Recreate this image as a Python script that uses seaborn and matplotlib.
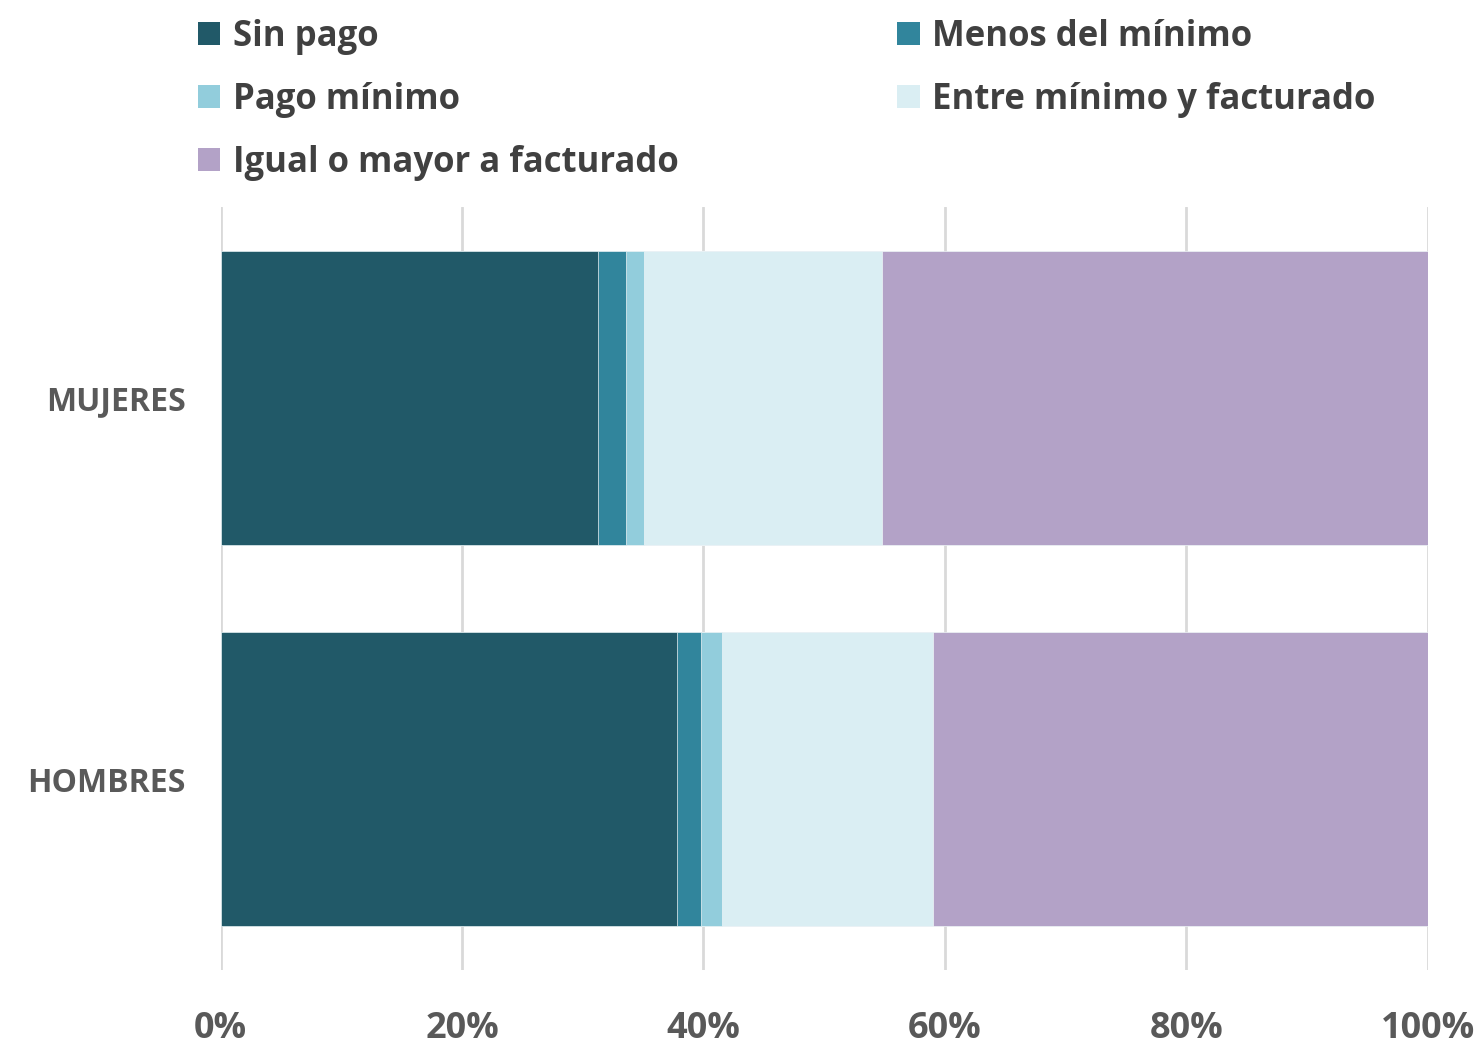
import numpy as np
import pandas as pd
import matplotlib
matplotlib.use("Agg")
import matplotlib.pyplot as plt
import seaborn as sns
from matplotlib.patches import Patch

# Data (percent of each group)
categories = ["MUJERES", "HOMBRES"]
series = ["Sin pago", "Menos del mínimo", "Pago mínimo",
          "Entre mínimo y facturado", "Igual o mayor a facturado"]
sin_pago = [31.3, 37.8]
menos_minimo = [2.3, 2.0]
pago_minimo = [1.5, 1.7]
entre = [19.7, 17.5]
igual_mayor = [45.2, 41.0]
colors = ["#215968", "#31859C", "#92CDDC", "#DAEEF3", "#B3A2C7"]
tick_labels = ["0%", "20%", "40%", "60%", "80%", "100%"]

sns.set_theme(style="white")
plt.rcParams['font.family'] = ['Open Sans', 'DejaVu Sans']

df = pd.DataFrame({"cat": categories,
                   "Sin pago": sin_pago,
                   "Menos del mínimo": menos_minimo,
                   "Pago mínimo": pago_minimo,
                   "Entre mínimo y facturado": entre,
                   "Igual o mayor a facturado": igual_mayor})
# cumulative totals so the stacked bars can be drawn back to front
cum = df[series].cumsum(axis=1)

fig = plt.figure(figsize=(14.81, 10.46), dpi=100)
ax = fig.add_axes([0.149, 0.073, 0.815, 0.729])

for s, c in reversed(list(zip(series, colors))):
    sns.barplot(x=cum[s], y=df["cat"], orient="h", color=c, width=0.77,
                saturation=1, edgecolor="#EEF5F7", linewidth=0.5, ax=ax, zorder=2)

ax.set_xlim(0, 100)
ax.set_ylim(1.5, -0.5)
ax.set_xticks(np.arange(0, 101, 20))
ax.set_xticklabels(tick_labels)
ax.grid(axis="x", color="#D9D9D9", linewidth=2, zorder=0)
ax.set_axisbelow(True)
for sp in ax.spines.values():
    sp.set_visible(False)
ax.set_xlabel("")
ax.set_ylabel("")
ax.tick_params(axis="x", labelsize=26, labelcolor="#595959", pad=30, length=0)
ax.tick_params(axis="y", labelsize=23, labelcolor="#595959", pad=25, length=0)
for t in ax.get_xticklabels() + ax.get_yticklabels():
    t.set_fontweight("bold")

# legend, ordered so that the two columns read row by row
order = [0, 2, 4, 1, 3]
handles = [Patch(facecolor=colors[i], edgecolor="none") for i in order]
labels = [series[i] for i in order]
fig.legend(handles, labels, ncol=2, loc="upper left",
           bbox_to_anchor=(0.1125, 1.012), frameon=False,
           prop={"size": 25, "weight": "bold"}, labelcolor="#404040",
           handlelength=0.65, handleheight=0.65, handletextpad=0.35,
           columnspacing=6.3, labelspacing=0.78)

fig.savefig("out.png", dpi=100, facecolor="white")
